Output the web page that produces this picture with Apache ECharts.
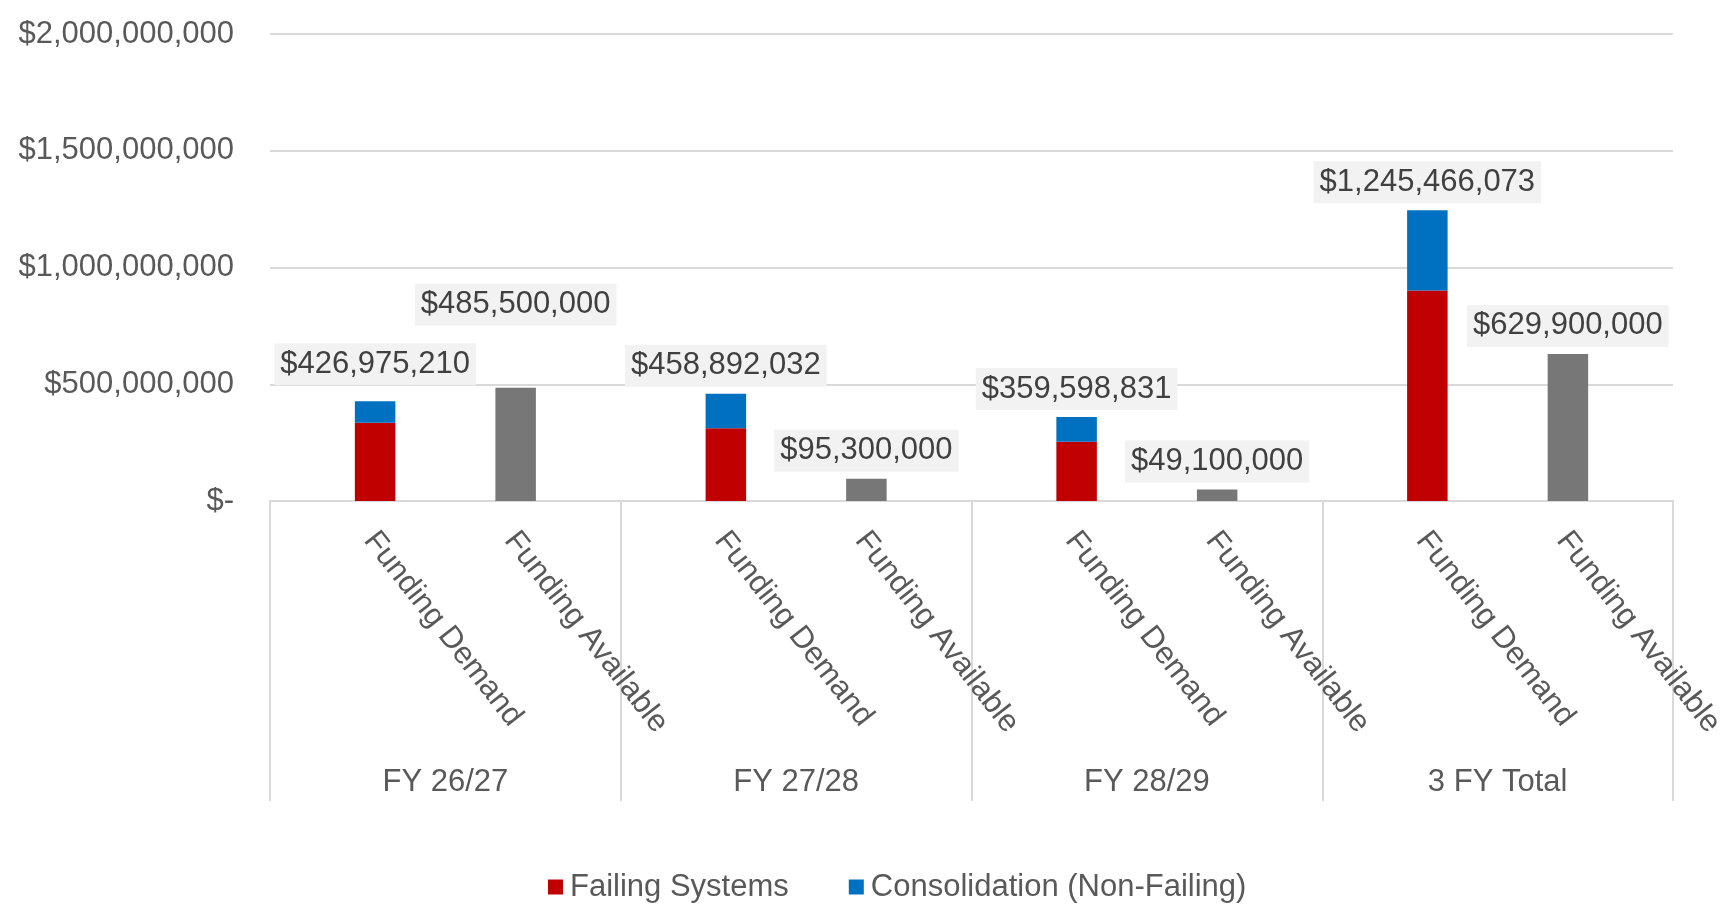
<!DOCTYPE html>
<html>
<head>
<meta charset="utf-8">
<script src="https://cdn.jsdelivr.net/npm/echarts@6/dist/echarts.min.js"></script>
<style>
  html, body { margin: 0; padding: 0; background: #fff; }
  #chart { width: 1728px; height: 909px; }
</style>
</head>
<body>
<div id="chart"></div>
<script>
const years = ["FY 26/27", "FY 27/28", "FY 28/29", "3 FY Total"];
const failing = [335000000, 312000000, 254000000, 901000000];
const consolidation = [91975210, 146892032, 105598831, 344466073];
const demandTotal = [426975210, 458892032, 359598831, 1245466073];
const available = [485500000, 95300000, 49100000, 629900000];
const yTicks = [0, 500000000, 1000000000, 1500000000, 2000000000];

const font = "'Liberation Sans', Arial, sans-serif";
const money = (v) => "$" + v.toLocaleString("en-US");

const valueLabel = {
  show: true,
  position: "top",
  distance: 7,
  fontFamily: font,
  fontSize: 31,
  lineHeight: 34,
  color: "#404040",
  backgroundColor: "#f2f2f2",
  padding: [4, 6],
};

const subLabel = (text) => ({
  show: true,
  position: "bottom",
  distance: 16,
  offset: [11, 0],
  rotate: -52,
  align: "left",
  verticalAlign: "top",
  fontFamily: font,
  fontSize: 31,
  color: "#595959",
  formatter: text,
});

const option = {
  animation: false,
  textStyle: { fontFamily: font },
  grid: { left: 270, right: 55, top: 34, bottom: 408, containLabel: false },
  legend: {
    data: ["Failing Systems", "Consolidation (Non-Failing)"],
    left: 543,
    top: 864,
    icon: "rect",
    itemWidth: 15,
    itemHeight: 15,
    itemGap: 60,
    textStyle: { fontFamily: font, fontSize: 31, lineHeight: 36, color: "#595959", padding: [0, 0, 0, 2] },
  },
  xAxis: {
    type: "category",
    data: years,
    axisLine: { lineStyle: { color: "#d9d9d9", width: 2 } },
    axisTick: { show: true, interval: 0, length: 300, lineStyle: { color: "#d9d9d9", width: 2 } },
    axisLabel: { interval: 0, margin: 266, fontFamily: font, fontSize: 31, lineHeight: 31, color: "#595959" },
  },
  yAxis: {
    type: "value",
    min: yTicks[0],
    max: yTicks[yTicks.length - 1],
    interval: yTicks[1] - yTicks[0],
    axisLine: { show: false },
    axisTick: { show: false },
    splitLine: { lineStyle: { color: "#d9d9d9", width: 2 } },
    axisLabel: {
      margin: 36,
      fontFamily: font,
      fontSize: 31,
      color: "#595959",
      formatter: (v) => (v === 0 ? "$-" : money(v)),
    },
  },
  series: [
    {
      name: "Failing Systems",
      type: "bar",
      stack: "demand",
      barWidth: 40.5,
      barGap: "247%",
      data: failing,
      itemStyle: { color: "#c00000" },
      label: subLabel("Funding Demand"),
    },
    {
      name: "Consolidation (Non-Failing)",
      type: "bar",
      stack: "demand",
      barWidth: 40.5,
      data: consolidation.map((v, i) =>
        i === 0 ? { value: v, label: { offset: [0, -9] } } : v
      ),
      itemStyle: { color: "#0070c0" },
      label: { ...valueLabel, formatter: (p) => money(demandTotal[p.dataIndex]) },
    },
    {
      name: "avail-label",
      type: "bar",
      stack: "avail",
      barWidth: 40.5,
      data: available.map(() => 0),
      itemStyle: { color: "rgba(0,0,0,0)" },
      label: subLabel("Funding Available"),
    },
    {
      name: "Funding Available",
      type: "bar",
      stack: "avail",
      barWidth: 40.5,
      data: available.map((v, i) =>
        i === 0 ? { value: v, label: { offset: [0, -55] } } : v
      ),
      itemStyle: { color: "#777777" },
      label: { ...valueLabel, formatter: (p) => money(available[p.dataIndex]) },
    },
  ],
};

const chart = echarts.init(document.getElementById("chart"));
chart.setOption(option);
window.addEventListener("resize", () => chart.resize());
</script>
</body>
</html>
